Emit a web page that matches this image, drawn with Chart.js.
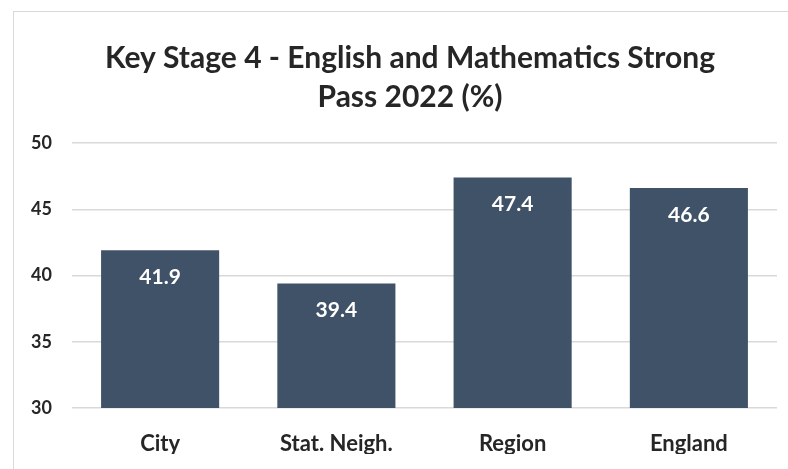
<!DOCTYPE html>
<html><head><meta charset="utf-8">
<script src="https://cdn.jsdelivr.net/npm/chart.js@4.4.0/dist/chart.umd.min.js"></script>
<style>
html,body{margin:0;padding:0;background:#fff;}
#wrap{position:relative;width:788px;height:469px;overflow:hidden;}
#frame{position:absolute;left:13px;top:11px;right:-5px;bottom:-5px;border:1.5px solid #d9d9d9;}
canvas{position:absolute;left:0;top:0;}
</style></head>
<body><div id="wrap"><div id="frame"></div><canvas id="c" width="788" height="469"></canvas></div>
<script>
const categories = ["City", "Stat. Neigh.", "Region", "England"];
const values = [41.9, 39.4, 47.4, 46.6];
const titleLines = ["Key Stage 4 - English and Mathematics Strong", "Pass 2022 (%)"];
const yMin = 30, yMax = 50, yStep = 5;

const FONT = "Lato, 'Open Sans', sans-serif";
const labelPlugin = {
  id: 'barLabels',
  afterDatasetsDraw(chart) {
    const ctx = chart.ctx;
    const meta = chart.getDatasetMeta(0);
    ctx.save();
    ctx.fillStyle = '#ffffff';
    ctx.font = "bold 21px " + FONT;
    ctx.textAlign = 'center';
    ctx.textBaseline = 'middle';
    meta.data.forEach((bar, i) => {
      ctx.fillText(values[i].toFixed(1), bar.x, bar.y + 27);
    });
    ctx.restore();
  }
};
const titlePlugin = {
  id: 'customTitle',
  afterDraw(chart) {
    const ctx = chart.ctx;
    ctx.save();
    ctx.fillStyle = '#262626';
    ctx.font = "bold 30px " + FONT;
    ctx.textAlign = 'center';
    ctx.textBaseline = 'middle';
    ctx.fillText(titleLines[0], 410, 58);
    ctx.fillText(titleLines[1], 410, 97);
    ctx.restore();
  }
};

new Chart(document.getElementById('c'), {
  type: 'bar',
  data: {
    labels: categories,
    datasets: [{
      data: values,
      backgroundColor: '#3F5268',
      borderWidth: 0,
      categoryPercentage: 1,
      barPercentage: 0.67
    }]
  },
  options: {
    responsive: false,
    animation: false,
    layout: { padding: { left: 0, right: 11, top: 143, bottom: 15 } },
    plugins: {
      legend: { display: false },
      tooltip: { enabled: false },
      title: { display: false }
    },
    scales: {
      x: {
        afterFit(s) { s.height = 46; },
        grid: { display: false, drawTicks: false },
        border: { display: false },
        ticks: { color: '#262626', padding: 23, font: { family: FONT, size: 22, weight: 'bold' } }
      },
      y: {
        min: yMin, max: yMax,
        afterFit(s) { s.width = 72; },
        grid: { color: '#d9d9d9', lineWidth: 1.5, drawTicks: false },
        border: { display: false },
        ticks: { stepSize: yStep, color: '#262626', padding: 20, font: { family: FONT, size: 18, weight: 'bold' } }
      }
    }
  },
  plugins: [labelPlugin, titlePlugin]
});
</script></body></html>
